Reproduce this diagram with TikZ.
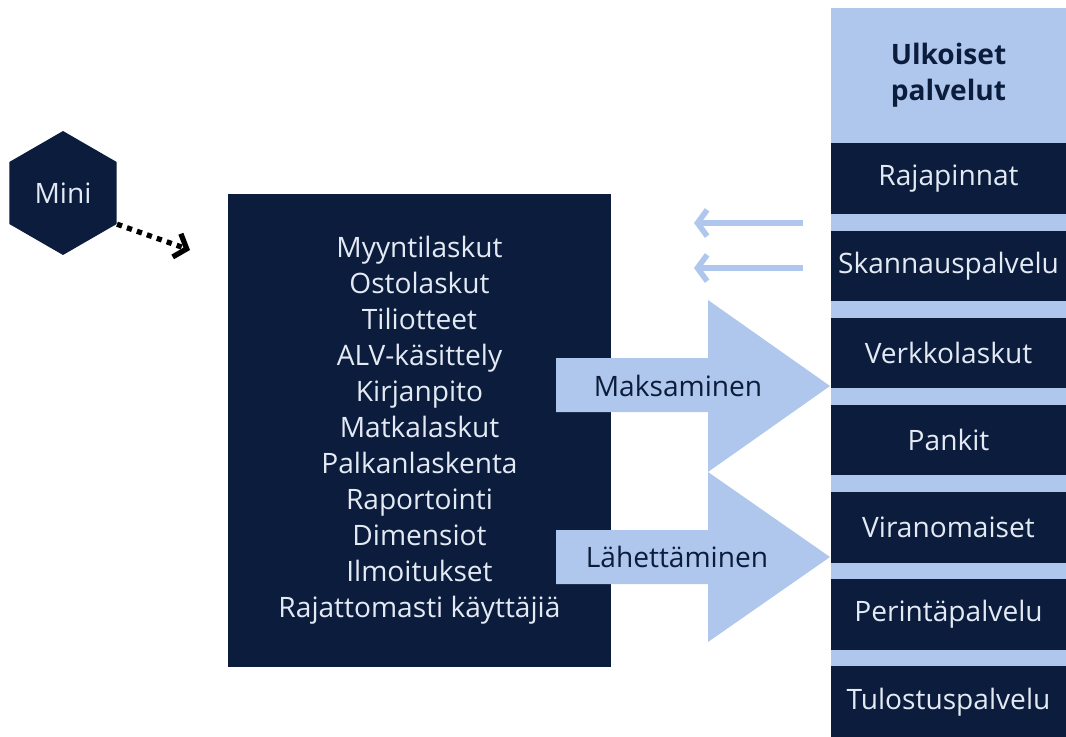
\documentclass[tikz,border=0pt]{standalone}
\usepackage{fontspec}
\setmainfont{Open Sans}
\usetikzlibrary{positioning, arrows.meta, shapes.geometric}
\definecolor{navy}{HTML}{0B1C3C}
\definecolor{paleblue}{HTML}{AFC7EC}
\definecolor{paletext}{HTML}{E4EAF4}

\begin{document}
\begin{tikzpicture}[
        x=0.02cm, y=-0.02cm,
        darkbox/.style={fill=navy, text=paletext, rectangle, inner sep=0pt, align=center},
        service/.style={darkbox, minimum width=4.7cm, minimum height=1.41cm},
        hexa/.style={fill=navy, text=paletext, regular polygon, regular polygon sides=6, shape border rotate=30, minimum size=2.48cm, inner sep=0pt},
        flowlabel/.style={text=navy, inner sep=0pt},
        dotarrow/.style={-{Straight Barb[length=6pt, width=14pt]}, line width=3pt, dash pattern=on 3pt off 3pt, black},
        inarrow/.style={-{Straight Barb[length=5.5pt, width=15pt]}, line width=3.2pt, paleblue},
        font=\fontsize{16}{20.5}\selectfont
    ]
    \useasboundingbox (0,0) rectangle (1066,737);

    % Nodes
    \node[hexa] (mini) at (63,193) {Mini};
    \node[darkbox, minimum width=7.66cm, minimum height=9.46cm] (core) at (419.5,430.5)
        {Myyntilaskut\\Ostolaskut\\Tiliotteet\\ALV-käsittely\\Kirjanpito\\Matkalaskut\\Palkanlaskenta\\Raportointi\\Dimensiot\\Ilmoitukset\\Rajattomasti käyttäjiä};

    % External services column
    \fill[paleblue] (831,8) rectangle (1066,737);
    \node[text=navy, align=center, font=\fontsize{16}{20.5}\selectfont\bfseries] (ext) at (948.5,75) {Ulkoiset\\palvelut};
    \node[service, anchor=north] (raja) at (948.5,143) {Rajapinnat};
    \node[service, below=0.32cm of raja] (skan) {Skannauspalvelu};
    \node[service, below=0.32cm of skan] (verkko) {Verkkolaskut};
    \node[service, below=0.32cm of verkko] (pankit) {Pankit};
    \node[service, below=0.32cm of pankit] (viran) {Viranomaiset};
    \node[service, below=0.32cm of viran] (perinta) {Perintäpalvelu};
    \node[service, below=0.32cm of perinta] (tulostus) {Tulostuspalvelu};

    % Big arrows to the services
    \fill[paleblue] (556,358) -- (708,358) -- (708,300) -- (830,386) -- (708,472) -- (708,412) -- (556,412) -- cycle;
    \fill[paleblue] (556,530) -- (708,530) -- (708,472) -- (830,557) -- (708,642) -- (708,584) -- (556,584) -- cycle;
    \node[flowlabel] (pay) at (678,386) {Maksaminen};
    \node[flowlabel] (send) at (677,557) {Lähettäminen};

    % Incoming arrows
    \coordinate (in1) at (803,223);
    \coordinate (out1) at (694,223);
    \coordinate (in2) at (803,268);
    \coordinate (out2) at (694,268);
    \draw[inarrow] (in1) -- (out1);
    \draw[inarrow] (in2) -- (out2);

    % Mini to core
    \coordinate (minitip) at (190,250);
    \draw[dotarrow] (mini.-30) -- (minitip);
\end{tikzpicture}
\end{document}
